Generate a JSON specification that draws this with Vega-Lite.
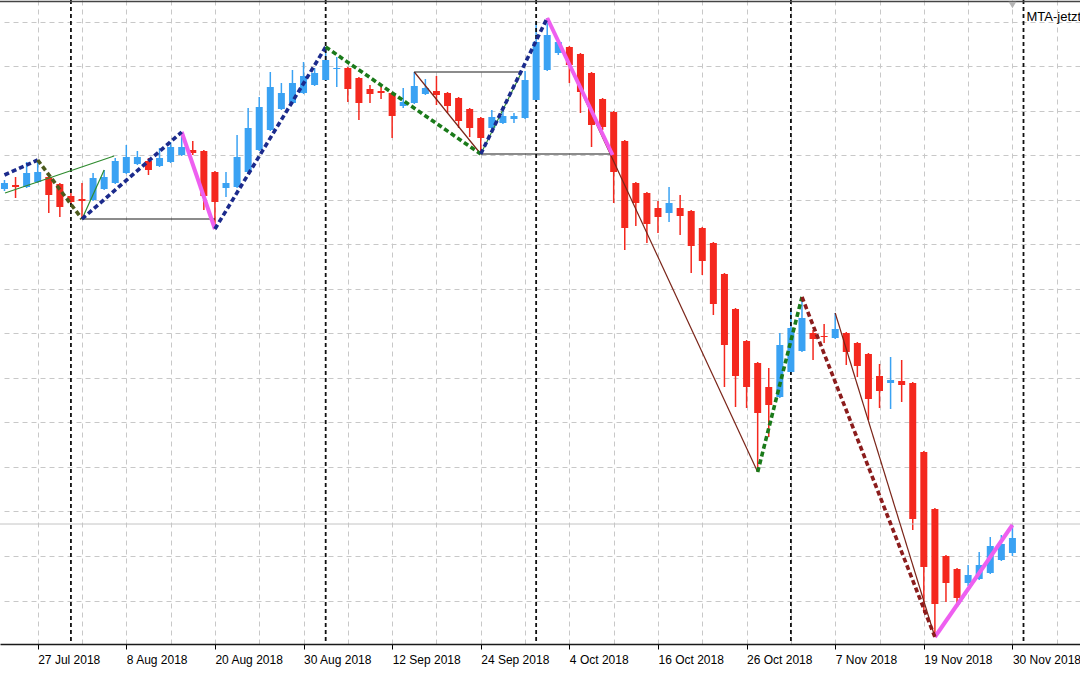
{
  "$schema": "https://vega.github.io/schema/vega-lite/v6.json",
  "width": 1080,
  "height": 644,
  "autosize": {"type": "none"},
  "padding": {"left": 0, "top": 0, "right": 0, "bottom": 31},
  "background": "#ffffff",
  "config": {"view": {"stroke": null}, "font": "Liberation Sans"},
  "datasets": {
    "candles": [
      {"date": "2018-07-24", "i": -3, "open": 90.55, "high": 91.0, "low": 90.45, "close": 90.85},
      {"date": "2018-07-25", "i": -2, "open": 90.75, "high": 91.15, "low": 90.1, "close": 90.65},
      {"date": "2018-07-26", "i": -1, "open": 90.65, "high": 91.9, "low": 90.6, "close": 91.35},
      {"date": "2018-07-27", "i": 0, "open": 90.9, "high": 92.0, "low": 90.85, "close": 91.4},
      {"date": "2018-07-30", "i": 1, "open": 91.15, "high": 91.25, "low": 89.35, "close": 90.25},
      {"date": "2018-07-31", "i": 2, "open": 90.8, "high": 90.85, "low": 89.15, "close": 89.65},
      {"date": "2018-08-01", "i": 3, "open": 90.2, "high": 90.35, "low": 89.75, "close": 89.9},
      {"date": "2018-08-02", "i": 4, "open": 90.05, "high": 90.85, "low": 89.05, "close": 89.95},
      {"date": "2018-08-03", "i": 5, "open": 90.0, "high": 91.35, "low": 89.95, "close": 91.1},
      {"date": "2018-08-06", "i": 6, "open": 90.55, "high": 91.5, "low": 90.5, "close": 91.15},
      {"date": "2018-08-07", "i": 7, "open": 90.85, "high": 92.1, "low": 90.8, "close": 91.95},
      {"date": "2018-08-08", "i": 8, "open": 91.35, "high": 92.75, "low": 91.3, "close": 92.15},
      {"date": "2018-08-09", "i": 9, "open": 91.8, "high": 92.45, "low": 91.75, "close": 92.15},
      {"date": "2018-08-10", "i": 10, "open": 91.95, "high": 92.1, "low": 91.25, "close": 91.5},
      {"date": "2018-08-13", "i": 11, "open": 91.7, "high": 92.6, "low": 91.65, "close": 92.1},
      {"date": "2018-08-14", "i": 12, "open": 91.9, "high": 92.9, "low": 91.85, "close": 92.65},
      {"date": "2018-08-15", "i": 13, "open": 92.25, "high": 93.4, "low": 92.2, "close": 92.65},
      {"date": "2018-08-16", "i": 14, "open": 92.5, "high": 92.95, "low": 92.25, "close": 92.35},
      {"date": "2018-08-17", "i": 15, "open": 92.45, "high": 92.5, "low": 89.5, "close": 90.2},
      {"date": "2018-08-20", "i": 16, "open": 91.4, "high": 91.45, "low": 88.55, "close": 89.9},
      {"date": "2018-08-21", "i": 17, "open": 90.6, "high": 91.4, "low": 90.15, "close": 90.85},
      {"date": "2018-08-22", "i": 18, "open": 90.65, "high": 93.25, "low": 90.6, "close": 92.15},
      {"date": "2018-08-23", "i": 19, "open": 91.4, "high": 94.6, "low": 91.35, "close": 93.6},
      {"date": "2018-08-24", "i": 20, "open": 92.5, "high": 95.15, "low": 92.45, "close": 94.65},
      {"date": "2018-08-27", "i": 21, "open": 93.5, "high": 96.4, "low": 93.45, "close": 95.65},
      {"date": "2018-08-28", "i": 22, "open": 94.55, "high": 95.85, "low": 94.5, "close": 95.35},
      {"date": "2018-08-29", "i": 23, "open": 94.85, "high": 96.5, "low": 94.8, "close": 95.85},
      {"date": "2018-08-30", "i": 24, "open": 95.35, "high": 96.9, "low": 95.3, "close": 96.2},
      {"date": "2018-08-31", "i": 25, "open": 95.75, "high": 96.6, "low": 95.7, "close": 96.35},
      {"date": "2018-09-04", "i": 26, "open": 96.0, "high": 97.65, "low": 95.95, "close": 97.0},
      {"date": "2018-09-05", "i": 27, "open": 96.55, "high": 97.15, "low": 95.65, "close": 96.6},
      {"date": "2018-09-06", "i": 28, "open": 96.6, "high": 96.65, "low": 94.9, "close": 95.55},
      {"date": "2018-09-07", "i": 29, "open": 96.1, "high": 96.15, "low": 94.0, "close": 94.85},
      {"date": "2018-09-10", "i": 30, "open": 95.55, "high": 95.75, "low": 94.85, "close": 95.3},
      {"date": "2018-09-11", "i": 31, "open": 95.45, "high": 95.65, "low": 95.05, "close": 95.35},
      {"date": "2018-09-12", "i": 32, "open": 95.35, "high": 95.4, "low": 93.1, "close": 94.2},
      {"date": "2018-09-13", "i": 33, "open": 94.7, "high": 95.6, "low": 94.6, "close": 94.9},
      {"date": "2018-09-14", "i": 34, "open": 94.85, "high": 96.4, "low": 94.8, "close": 95.7},
      {"date": "2018-09-17", "i": 35, "open": 95.3, "high": 96.05, "low": 95.25, "close": 95.6},
      {"date": "2018-09-18", "i": 36, "open": 95.45, "high": 96.2, "low": 94.75, "close": 95.25},
      {"date": "2018-09-19", "i": 37, "open": 95.35, "high": 95.4, "low": 94.35, "close": 94.7},
      {"date": "2018-09-20", "i": 38, "open": 95.1, "high": 95.15, "low": 93.6, "close": 93.95},
      {"date": "2018-09-21", "i": 39, "open": 94.55, "high": 94.6, "low": 93.15, "close": 93.6},
      {"date": "2018-09-24", "i": 40, "open": 94.1, "high": 94.15, "low": 92.3, "close": 93.1},
      {"date": "2018-09-25", "i": 41, "open": 93.6, "high": 94.5, "low": 93.55, "close": 94.15},
      {"date": "2018-09-26", "i": 42, "open": 93.85, "high": 94.5, "low": 93.8, "close": 94.2},
      {"date": "2018-09-27", "i": 43, "open": 94.05, "high": 94.35, "low": 93.85, "close": 94.2},
      {"date": "2018-09-28", "i": 44, "open": 94.1, "high": 96.45, "low": 94.05, "close": 96.0},
      {"date": "2018-10-01", "i": 45, "open": 95.0, "high": 98.9, "low": 94.95, "close": 97.9},
      {"date": "2018-10-02", "i": 46, "open": 96.5, "high": 99.1, "low": 96.45, "close": 98.25},
      {"date": "2018-10-03", "i": 47, "open": 97.35, "high": 98.0, "low": 97.25, "close": 97.9},
      {"date": "2018-10-04", "i": 48, "open": 97.65, "high": 97.7, "low": 95.85, "close": 96.75},
      {"date": "2018-10-05", "i": 49, "open": 97.3, "high": 97.35, "low": 94.35, "close": 95.4},
      {"date": "2018-10-08", "i": 50, "open": 96.35, "high": 96.4, "low": 92.65, "close": 93.75},
      {"date": "2018-10-09", "i": 51, "open": 95.05, "high": 95.1, "low": 93.5, "close": 93.65},
      {"date": "2018-10-10", "i": 52, "open": 94.4, "high": 94.45, "low": 89.85, "close": 91.4},
      {"date": "2018-10-11", "i": 53, "open": 92.95, "high": 93.0, "low": 87.5, "close": 88.6},
      {"date": "2018-10-12", "i": 54, "open": 90.85, "high": 90.9, "low": 88.7, "close": 89.85},
      {"date": "2018-10-15", "i": 55, "open": 90.35, "high": 90.4, "low": 87.85, "close": 88.8},
      {"date": "2018-10-16", "i": 56, "open": 89.6, "high": 89.95, "low": 88.35, "close": 89.15},
      {"date": "2018-10-17", "i": 57, "open": 89.35, "high": 90.65, "low": 88.9, "close": 89.85},
      {"date": "2018-10-18", "i": 58, "open": 89.6, "high": 90.25, "low": 88.25, "close": 89.2},
      {"date": "2018-10-19", "i": 59, "open": 89.45, "high": 89.5, "low": 86.35, "close": 87.7},
      {"date": "2018-10-22", "i": 60, "open": 88.6, "high": 88.65, "low": 86.25, "close": 86.95},
      {"date": "2018-10-23", "i": 61, "open": 87.85, "high": 87.9, "low": 84.25, "close": 84.8},
      {"date": "2018-10-24", "i": 62, "open": 86.3, "high": 86.35, "low": 80.65, "close": 82.75},
      {"date": "2018-10-25", "i": 63, "open": 84.55, "high": 84.6, "low": 79.65, "close": 81.2},
      {"date": "2018-10-26", "i": 64, "open": 82.95, "high": 83.0, "low": 79.6, "close": 80.65},
      {"date": "2018-10-29", "i": 65, "open": 81.85, "high": 81.9, "low": 76.4, "close": 79.35},
      {"date": "2018-10-30", "i": 66, "open": 80.65, "high": 81.6, "low": 78.15, "close": 79.75},
      {"date": "2018-10-31", "i": 67, "open": 80.15, "high": 83.35, "low": 80.1, "close": 82.75},
      {"date": "2018-11-01", "i": 68, "open": 81.4, "high": 84.6, "low": 81.35, "close": 83.6},
      {"date": "2018-11-02", "i": 69, "open": 82.45, "high": 85.15, "low": 82.4, "close": 84.1},
      {"date": "2018-11-05", "i": 70, "open": 83.35, "high": 83.5, "low": 82.0, "close": 83.05},
      {"date": "2018-11-06", "i": 71, "open": 83.2, "high": 83.8, "low": 82.85, "close": 83.15},
      {"date": "2018-11-07", "i": 72, "open": 83.1, "high": 84.35, "low": 83.05, "close": 83.55},
      {"date": "2018-11-08", "i": 73, "open": 83.35, "high": 83.4, "low": 81.75, "close": 82.4},
      {"date": "2018-11-09", "i": 74, "open": 82.85, "high": 82.9, "low": 81.15, "close": 81.7},
      {"date": "2018-11-12", "i": 75, "open": 82.3, "high": 82.35, "low": 79.0, "close": 80.05},
      {"date": "2018-11-13", "i": 76, "open": 81.2, "high": 81.8, "low": 79.6, "close": 80.45},
      {"date": "2018-11-14", "i": 77, "open": 80.85, "high": 82.15, "low": 79.55, "close": 81.0},
      {"date": "2018-11-15", "i": 78, "open": 80.95, "high": 82.0, "low": 79.9, "close": 80.75},
      {"date": "2018-11-16", "i": 79, "open": 80.85, "high": 80.9, "low": 73.5, "close": 74.05},
      {"date": "2018-11-19", "i": 80, "open": 77.4, "high": 77.45, "low": 69.35, "close": 71.65},
      {"date": "2018-11-20", "i": 81, "open": 74.55, "high": 74.6, "low": 68.15, "close": 69.8},
      {"date": "2018-11-21", "i": 82, "open": 72.2, "high": 72.25, "low": 69.9, "close": 70.85},
      {"date": "2018-11-23", "i": 83, "open": 71.55, "high": 71.6, "low": 69.75, "close": 70.1},
      {"date": "2018-11-26", "i": 84, "open": 70.85, "high": 71.75, "low": 70.7, "close": 71.25},
      {"date": "2018-11-27", "i": 85, "open": 71.05, "high": 72.4, "low": 71.0, "close": 71.75},
      {"date": "2018-11-28", "i": 86, "open": 71.35, "high": 73.15, "low": 71.3, "close": 72.7},
      {"date": "2018-11-29", "i": 87, "open": 72.0, "high": 73.25, "low": 71.95, "close": 72.8},
      {"date": "2018-11-30", "i": 88, "open": 72.35, "high": 73.75, "low": 72.2, "close": 73.1}
    ],
    "separators": [
      {"month": "Aug 2018", "i": 3},
      {"month": "Sep 2018", "i": 26},
      {"month": "Oct 2018", "i": 45},
      {"month": "Nov 2018", "i": 68},
      {"month": "Dec 2018", "i": 89}
    ],
    "lines": [
      {"seg": "A", "kind": "dash", "i": -3, "p": 91.25},
      {"seg": "A", "kind": "dash", "i": 0, "p": 92.0},
      {"seg": "B", "kind": "dash", "i": 0, "p": 92.0},
      {"seg": "B", "kind": "dash", "i": 4, "p": 89.05},
      {"seg": "C", "kind": "dash", "i": 4, "p": 89.05},
      {"seg": "C", "kind": "dash", "i": 13, "p": 93.4},
      {"seg": "E", "kind": "dash", "i": 16, "p": 88.55},
      {"seg": "E", "kind": "dash", "i": 26, "p": 97.65},
      {"seg": "F", "kind": "dash", "i": 26, "p": 97.65},
      {"seg": "F", "kind": "dash", "i": 40, "p": 92.3},
      {"seg": "G", "kind": "dash", "i": 40, "p": 92.3},
      {"seg": "G", "kind": "dash", "i": 46, "p": 99.1},
      {"seg": "J", "kind": "dash", "i": 65, "p": 76.4},
      {"seg": "J", "kind": "dash", "i": 69, "p": 85.15},
      {"seg": "K", "kind": "dash", "i": 69, "p": 85.15},
      {"seg": "K", "kind": "dash", "i": 81, "p": 68.15},
      {"seg": "D", "kind": "thick", "i": 13, "p": 93.4},
      {"seg": "D", "kind": "thick", "i": 16, "p": 88.55},
      {"seg": "H", "kind": "thick", "i": 46, "p": 99.1},
      {"seg": "H", "kind": "thick", "i": 51.9, "p": 92.25},
      {"seg": "L", "kind": "thick", "i": 81, "p": 68.15},
      {"seg": "L", "kind": "thick", "i": 88, "p": 73.75},
      {"seg": "I", "kind": "thin", "i": 46, "p": 99.1},
      {"seg": "I", "kind": "thin", "i": 65, "p": 76.4},
      {"seg": "N", "kind": "thin", "i": 72, "p": 84.35},
      {"seg": "N", "kind": "thin", "i": 81, "p": 68.15},
      {"seg": "T", "kind": "thin", "i": 34, "p": 96.4},
      {"seg": "T", "kind": "thin", "i": 40, "p": 92.3},
      {"seg": "Q", "kind": "thin", "i": -2.95, "p": 90.35},
      {"seg": "Q", "kind": "thin", "i": 6.9, "p": 92.2},
      {"seg": "R", "kind": "thin", "i": 4, "p": 89.05},
      {"seg": "R", "kind": "thin", "i": 6, "p": 91.5},
      {"seg": "S", "kind": "thin", "i": 40, "p": 92.3},
      {"seg": "S", "kind": "thin", "i": 43.7, "p": 96.4},
      {"seg": "M", "kind": "thin", "i": 83, "p": 69.65},
      {"seg": "M", "kind": "thin", "i": 88, "p": 73.75},
      {"seg": "O", "kind": "box", "i": 4, "p": 89.05},
      {"seg": "O", "kind": "box", "i": 16, "p": 89.05},
      {"seg": "U", "kind": "box", "i": 34, "p": 96.4},
      {"seg": "U", "kind": "box", "i": 43.7, "p": 96.4},
      {"seg": "V", "kind": "box", "i": 40, "p": 92.3},
      {"seg": "V", "kind": "box", "i": 51.9, "p": 92.3}
    ]
  },
  "layer": [
    {
      "data": {"name": "candles"},
      "mark": {"type": "rule", "strokeWidth": 1.5, "clip": true},
      "encoding": {
        "x": {
          "field": "i", "type": "quantitative", "title": null,
          "scale": {"domain": [-2.952, 93.649], "nice": false, "zero": false},
          "axis": {
            "orient": "bottom",
            "title": null,
            "values": [0, 4, 8, 12, 16, 20, 24, 28, 32, 36, 40, 44, 48, 52, 56, 60, 64, 68, 72, 76, 80, 84, 88, 92],
            "labelExpr": "datum.value % 8 === 0 ? ['27 Jul 2018','8 Aug 2018','20 Aug 2018','30 Aug 2018','12 Sep 2018','24 Sep 2018','4 Oct 2018','16 Oct 2018','26 Oct 2018','7 Nov 2018','19 Nov 2018','30 Nov 2018'][datum.value / 8] : ''",
            "labelAlign": "left",
            "labelBaseline": "top",
            "labelFont": "Liberation Sans",
            "labelFontSize": 12,
            "labelColor": "#000000",
            "labelPadding": 5,
            "labelOverlap": false,
            "labelFlush": false,
            "labelBound": false,
            "tickSize": 5,
            "tickColor": "#000000",
            "tickWidth": 1,
            "tickOpacity": {"condition": {"test": "datum.value % 8 === 0", "value": 1}, "value": 0},
            "domainColor": "#1a1a1a",
            "domainWidth": 1.5,
            "grid": true,
            "gridColor": "#c8c8c8",
            "gridDash": [5, 4],
            "gridWidth": 1
          }
        },
        "y": {
          "field": "low", "type": "quantitative", "title": null,
          "scale": {"domain": [67.8, 100], "nice": false, "zero": false},
          "axis": {
            "orient": "right",
            "title": null,
            "values": [69.975, 72.2, 74.43, 76.655, 78.885, 81.11, 83.335, 85.565, 87.79, 90.02, 92.245, 94.47, 96.7, 98.925],
            "labels": false,
            "ticks": false,
            "domain": false,
            "grid": true,
            "gridColor": "#c8c8c8",
            "gridDash": [5, 4],
            "gridWidth": 1
          }
        },
        "y2": {"field": "high"},
        "color": {"condition": {"test": "datum.close > datum.open", "value": "#3aa2f3"}, "value": "#f4281e"}
      }
    },
    {
      "data": {"values": [{"line": "bid"}]},
      "mark": {"type": "rule", "color": "#c4c4c4", "strokeWidth": 1},
      "encoding": {"y": {"datum": 73.8}}
    },
    {
      "data": {"name": "separators"},
      "mark": {"type": "rule", "color": "#111111", "strokeWidth": 1.8, "strokeDash": [4, 3], "clip": true},
      "encoding": {"x": {"field": "i", "type": "quantitative", "title": null}}
    },
    {
      "data": {"name": "candles"},
      "mark": {"type": "bar", "size": 7, "clip": true},
      "encoding": {
        "x": {"field": "i", "type": "quantitative", "title": null},
        "y": {"field": "open", "type": "quantitative", "title": null},
        "y2": {"field": "close"},
        "color": {"condition": {"test": "datum.close > datum.open", "value": "#3aa2f3"}, "value": "#f4281e"}
      }
    },
    {
      "data": {"name": "lines"},
      "transform": [{"filter": "datum.kind === 'thin' || datum.kind === 'box'"}],
      "mark": {"type": "line", "strokeWidth": 1.2, "clip": true},
      "encoding": {
        "x": {"field": "i", "type": "quantitative", "title": null},
        "y": {"field": "p", "type": "quantitative", "title": null},
        "detail": {"field": "seg"},
        "color": {
          "field": "seg", "type": "nominal", "legend": null,
          "scale": {
            "domain": ["A", "B", "C", "E", "F", "G", "J", "K", "D", "H", "L", "I", "N", "T", "Q", "R", "S", "M", "O", "U", "V"],
            "range": ["#1b2a8c", "#4b5a1c", "#1b2a8c", "#1b2a8c", "#1a7a1a", "#1b2a8c", "#1a7a1a", "#8b1c1c", "#ee5ff0", "#ee5ff0", "#ee5ff0", "#7a2418", "#7a2418", "#7a2418", "#2e8b2e", "#2e8b2e", "#2e8b2e", "#4a2aa0", "#1a1a1a", "#1a1a1a", "#1a1a1a"]
          }
        },
        "strokeWidth": {"condition": {"test": "datum.kind === 'box'", "value": 1.6}, "value": 1.1}
      }
    },
    {
      "data": {"name": "lines"},
      "transform": [{"filter": "datum.kind === 'thick'"}],
      "mark": {"type": "line", "strokeWidth": 4, "clip": true},
      "encoding": {
        "x": {"field": "i", "type": "quantitative", "title": null},
        "y": {"field": "p", "type": "quantitative", "title": null},
        "color": {"field": "seg", "type": "nominal", "legend": null}
      }
    },
    {
      "data": {"name": "lines"},
      "transform": [{"filter": "datum.kind === 'dash'"}],
      "mark": {"type": "line", "strokeWidth": 3.6, "strokeDash": [5, 3], "clip": true},
      "encoding": {
        "x": {"field": "i", "type": "quantitative", "title": null},
        "y": {"field": "p", "type": "quantitative", "title": null},
        "color": {"field": "seg", "type": "nominal", "legend": null}
      }
    },
    {
      "data": {"values": [{"line": "top"}]},
      "mark": {"type": "rule", "color": "#444444", "strokeWidth": 1.5},
      "encoding": {"y": {"datum": 99.93}}
    },
    {
      "data": {"values": [{"marker": "shift"}]},
      "mark": {"type": "point", "shape": "triangle-down", "size": 60, "filled": true, "color": "#b4b4b4", "opacity": 1},
      "encoding": {"x": {"datum": 88}, "y": {"datum": 99.75}}
    },
    {
      "data": {"values": [{"label": "MTA-jetzt"}]},
      "mark": {"type": "text", "align": "left", "baseline": "middle", "font": "Liberation Sans", "fontSize": 13, "color": "#000000"},
      "encoding": {"x": {"datum": 89.27}, "y": {"datum": 99.15}, "text": {"field": "label"}}
    }
  ]
}
